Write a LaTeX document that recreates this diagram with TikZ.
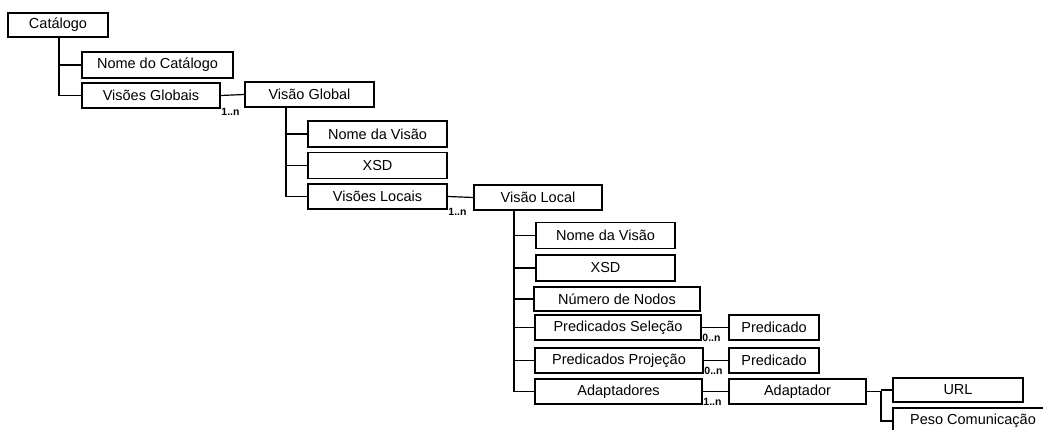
\documentclass[tikz,border=0pt]{standalone}
\usepackage{fontspec}
\setmainfont{Liberation Sans}
\begin{document}
\begin{tikzpicture}[x=1pt,y=-1pt,
  box/.style={draw, line width=1.3pt, inner sep=0pt, font=\fontsize{14.5}{16}\selectfont},
  link/.style={line width=1.2pt},
  mult/.style={font=\bfseries\fontsize{10.5}{11}\selectfont, inner sep=0.6pt, anchor=base west}]

\clip (0,0) rectangle (1043,430);

% level 0
\node[box, minimum width=100, minimum height=24] (cat) at (58,25) {Catálogo};
% level 1
\node[box, minimum width=151, minimum height=26] (ndc) at (157.5,65) {Nome do Catálogo};
\node[box, minimum width=138, minimum height=25] (vgs) at (151,95.5) {Visões Globais};
\node[box, minimum width=129, minimum height=25] (vg)  at (309.5,94.5) {Visão Global};
% level 2
\node[box, minimum width=139, minimum height=26] (nvg)  at (377.5,134) {Nome da Visão};
\node[box, minimum width=139, minimum height=26] (xsdg) at (377.5,165.5) {XSD};
\node[box, minimum width=139, minimum height=25] (vls)  at (377.5,196.5) {Visões Locais};
\node[box, minimum width=128, minimum height=25] (vl)   at (538,197.5) {Visão Local};
% level 3
\node[box, minimum width=139, minimum height=26] (nvl)  at (605.5,235.5) {Nome da Visão};
\node[box, minimum width=139, minimum height=26] (xsdl) at (605.5,268) {XSD};
\node[box, minimum width=166, minimum height=24] (nn)   at (617,299) {Número de Nodos};
\node[box, minimum width=166, minimum height=25] (ps)   at (618,327.5) {Predicados Seleção};
\node[box, minimum width=90,  minimum height=25] (p1)   at (774,327.5) {Predicado};
\node[box, minimum width=168, minimum height=25] (pp)   at (619,360.5) {Predicados Projeção};
\node[box, minimum width=90,  minimum height=25] (p2)   at (774,360.5) {Predicado};
\node[box, minimum width=167, minimum height=25] (ads)  at (618.5,391.5) {Adaptadores};
\node[box, minimum width=137, minimum height=25] (ad)   at (797.5,391.5) {Adaptador};
% level 4
\node[box, minimum width=130, minimum height=24] (url)  at (958,390) {URL};
\node[box, minimum width=160, minimum height=26] (peso) at (973,421) {Peso Comunicação};

% trunk points
\coordinate (t1) at (59,37);
\coordinate (t2) at (286,107);
\coordinate (t3) at (514,210);
\coordinate (t4) at (881,391.5);

% tree connectors
\draw[link] (t1) |- (vgs.west);
\draw[link] (t1 |- ndc.west) -- (ndc.west);

\draw[link] (t2) |- (vls.west);
\draw[link] (t2 |- nvg.west) -- (nvg.west);
\draw[link] (t2 |- xsdg.west) -- (xsdg.west);

\draw[link] (t3) |- (ads.west);
\draw[link] (t3 |- nvl.west) -- (nvl.west);
\draw[link] (t3 |- xsdl.west) -- (xsdl.west);
\draw[link] (t3 |- nn.west) -- (nn.west);
\draw[link] (t3 |- ps.west) -- (ps.west);
\draw[link] (t3 |- pp.west) -- (pp.west);

\draw[link] (ad.east) -- (t4) |- (peso.west);
\draw[link] (t4 |- url.west) -- (url.west);

% multiplicity connectors
\draw[link] (vgs.east) -- (vg.west);
\draw[link] (vls.east) -- (vl.west);
\draw[link] (ps.east) -- (p1.west);
\draw[link] (pp.east) -- (p2.west);
\draw[link] (ads.east) -- (ad.west);

\node[mult] (m1) at ([yshift=-7pt]vgs.south east) {1..n};
\node[mult] (m2) at ([yshift=-6pt]vls.south east) {1..n};
\node[mult] (m3) at ([yshift=-1pt]ps.south east) {0..n};
\node[mult] (m4) at ([yshift=-1pt]pp.south east) {0..n};
\node[mult] (m5) at ([yshift=-1pt]ads.south east) {1..n};
\end{tikzpicture}
\end{document}
